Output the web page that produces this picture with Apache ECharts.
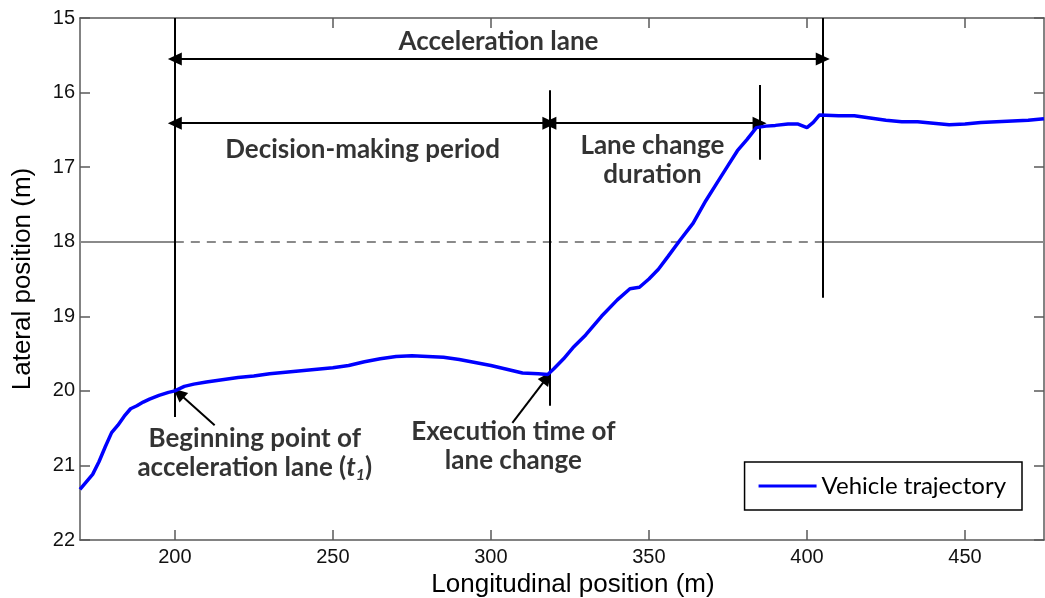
<!DOCTYPE html>
<html>
<head>
<meta charset="utf-8">
<script src="https://cdn.jsdelivr.net/npm/echarts@6/dist/echarts.min.js"></script>
<style>
html,body{margin:0;padding:0;background:#fff;}
#chart{width:1045px;height:598px;}
</style>
</head>
<body>
<div id="chart"></div>
<script>
// ---- data ----
const xTicks = [200, 250, 300, 350, 400, 450];
const yTicks = [15, 16, 17, 18, 19, 20, 21, 22];
const trajectory = [
  [170,21.32],[172,21.22],[174,21.12],[176,20.95],[178,20.75],[180,20.56],[182,20.46],[184,20.34],
  [186,20.24],[188,20.2],[190,20.15],[192,20.11],[195,20.06],[198,20.02],[200,20.0],[203,19.94],
  [206,19.91],[210,19.88],[215,19.85],[220,19.82],[225,19.8],[230,19.77],[235,19.75],[240,19.73],
  [245,19.71],[250,19.69],[255,19.66],[260,19.61],[265,19.57],[270,19.54],[275,19.53],[280,19.54],
  [285,19.55],[290,19.58],[295,19.62],[300,19.66],[305,19.71],[310,19.76],[315,19.77],[318,19.78],
  [320,19.7],[323,19.57],[326,19.42],[330,19.25],[335,19.0],[340,18.78],[344,18.63],[347,18.61],
  [350,18.5],[353,18.37],[356,18.2],[360,17.97],[364,17.75],[368,17.45],[372,17.18],[375,16.98],
  [378,16.78],[381,16.63],[384,16.47],[387,16.45],[390,16.44],[394,16.42],[397,16.42],[400,16.47],
  [402,16.4],[404,16.3],[410,16.31],[415,16.31],[420,16.34],[425,16.37],[430,16.39],[435,16.39],
  [440,16.41],[445,16.43],[450,16.42],[455,16.4],[460,16.39],[465,16.38],[470,16.37],[475,16.35]
];
const laneMarkingY = 18;
const laneMarkingSolid = [[170, 200], [405, 475]];
const laneMarkingDashed = [[200, 405]];
// vertical boundaries: [x, yTop, yBottom]
const boundaries = [[200, 15, 20.35], [318.5, 15.97, 20.2], [385, 15.9, 16.9], [405, 15, 18.75]];
// double-headed span arrows: [xStart, xEnd, y]
const spans = [[200, 405, 15.55], [200, 318.5, 16.41], [318.5, 385, 16.41]];
// pointer arrows: [xFrom, yFrom, xTo, yTo]
const pointers = [[212.6, 20.46, 201.2, 20.03], [306.8, 20.43, 317.8, 19.82]];
// text labels: [x, y, text]
const labels = [
  [302.4, 15.31, 'Acceleration lane'],
  [259.4, 16.77, 'Decision-making period'],
  [351.1, 16.9, 'Lane change\nduration'],
  [225.3, 20.84, 'Beginning point of\nacceleration lane ({i|t}{s|1})'],
  [307.1, 20.74, 'Execution time of\nlane change']
];

const annFont = 'Lato, "Open Sans", sans-serif';
const axFont = '"Liberation Sans", Arial, sans-serif';

const markLines = [];
laneMarkingSolid.forEach(s => markLines.push([
  {coord: [s[0], laneMarkingY], symbol: 'none', lineStyle: {color: '#8a8a8a', width: 2, type: 'solid'}},
  {coord: [s[1], laneMarkingY], symbol: 'none'}
]));
laneMarkingDashed.forEach(s => markLines.push([
  {coord: [s[0], laneMarkingY], symbol: 'none', lineStyle: {color: '#8a8a8a', width: 2, type: [9, 7]}},
  {coord: [s[1], laneMarkingY], symbol: 'none'}
]));
boundaries.forEach(b => markLines.push([
  {coord: [b[0], b[1]], symbol: 'none', lineStyle: {color: '#000', width: 2, type: 'solid'}},
  {coord: [b[0], b[2]], symbol: 'none'}
]));
spans.forEach(s => markLines.push([
  {coord: [s[0], s[2]], symbol: 'triangle', lineStyle: {color: '#000', width: 2, type: 'solid'}},
  {coord: [s[1], s[2]], symbol: 'triangle'}
]));
pointers.forEach(p => markLines.push([
  {coord: [p[0], p[1]], symbol: 'none', lineStyle: {color: '#000', width: 2, type: 'solid'}},
  {coord: [p[2], p[3]], symbol: 'triangle'}
]));

const chart = echarts.init(document.getElementById('chart'), null, {renderer: 'canvas'});
const axisLineStyle = {color: '#5a5a5a', width: 1.5};
chart.setOption({
  animation: false,
  backgroundColor: '#fff',
  grid: {left: 80, right: 1, top: 18, bottom: 58, containLabel: false, outerBoundsMode: 'none'},
  legend: {
    right: 23, top: 462,
    borderColor: '#000', borderWidth: 1.5,
    padding: [12, 16, 12, 14],
    itemWidth: 58, itemHeight: 3, itemGap: 10,
    textStyle: {fontFamily: annFont, fontSize: 24, color: '#000'},
    data: [{name: 'Vehicle trajectory', icon: 'rect'}]
  },
  xAxis: [{
    type: 'value', min: 170, max: 475,
    name: 'Longitudinal position (m)', nameLocation: 'middle', nameGap: 29,
    nameTextStyle: {fontFamily: axFont, fontSize: 26, color: '#000', padding: [0, 0, 0, 22]},
    axisLine: {onZero: false, lineStyle: axisLineStyle},
    axisTick: {inside: true, length: 10, customValues: xTicks, lineStyle: axisLineStyle},
    axisLabel: {customValues: xTicks, fontFamily: axFont, fontSize: 20, color: '#111', margin: 7},
    splitLine: {show: false}
  }, {
    type: 'value', min: 170, max: 475, position: 'top',
    axisLine: {onZero: false, lineStyle: axisLineStyle},
    axisTick: {inside: true, length: 10, customValues: xTicks, lineStyle: axisLineStyle},
    axisLabel: {show: false},
    splitLine: {show: false}
  }],
  yAxis: [{
    type: 'value', min: 15, max: 22, interval: 1, inverse: true,
    name: 'Lateral position (m)', nameLocation: 'middle', nameGap: 44,
    nameTextStyle: {fontFamily: axFont, fontSize: 26, color: '#000'},
    axisLine: {onZero: false, lineStyle: axisLineStyle},
    axisTick: {inside: true, length: 10, lineStyle: axisLineStyle},
    axisLabel: {fontFamily: axFont, fontSize: 20, color: '#111', margin: 5},
    splitLine: {show: false}
  }, {
    type: 'value', min: 15, max: 22, interval: 1, inverse: true, position: 'right',
    axisLine: {onZero: false, lineStyle: axisLineStyle},
    axisTick: {inside: true, length: 10, lineStyle: axisLineStyle},
    axisLabel: {show: false},
    splitLine: {show: false}
  }],
  series: [{
    name: 'annotations', type: 'line', data: [], silent: true,
    markLine: {
      silent: true, animation: false,
      symbolSize: [13, 14],
      label: {show: false},
      emphasis: {disabled: true},
      data: markLines
    }
  }, {
    name: 'Vehicle trajectory', type: 'line', data: trajectory,
    showSymbol: false, smooth: false, z: 5,
    lineStyle: {color: '#0000ff', width: 3.5},
    itemStyle: {color: '#0000ff'}
  }, {
    name: 'labels', type: 'scatter', symbolSize: 0, silent: true,
    data: labels.map(l => ({value: [l[0], l[1]], label: {formatter: l[2]}})),
    label: {
      show: true, position: 'inside', align: 'center', verticalAlign: 'middle',
      fontFamily: annFont, fontSize: 26, fontWeight: 'bold', color: '#000', lineHeight: 29,
      rich: {
        i: {fontFamily: annFont, fontSize: 26, fontWeight: 'bold', fontStyle: 'italic', color: '#000', lineHeight: 29},
        s: {fontFamily: annFont, fontSize: 16, fontWeight: 'bold', fontStyle: 'italic', color: '#000', verticalAlign: 'bottom', lineHeight: 22, padding: [9, 0, 0, 0]}
      }
    }
  }]
});
</script>
</body>
</html>
